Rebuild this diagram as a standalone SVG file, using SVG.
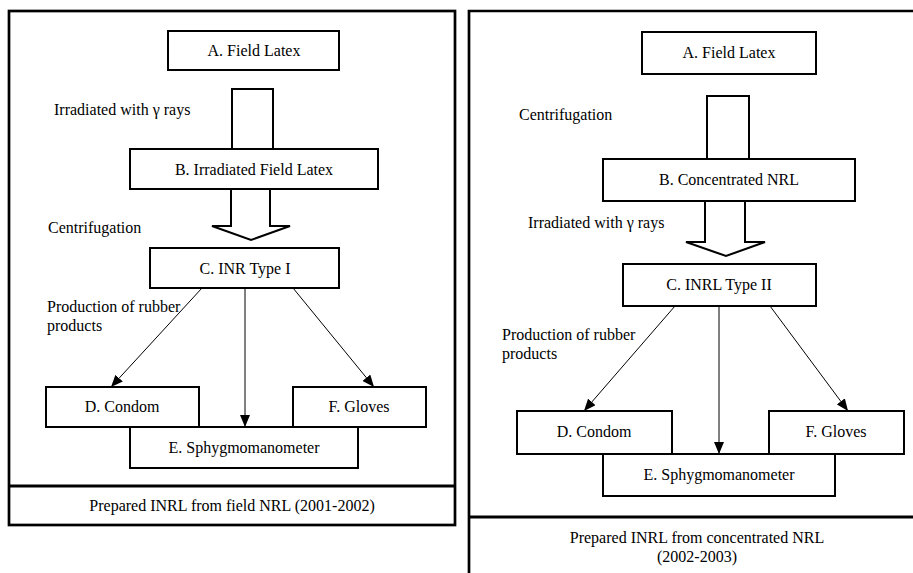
<svg xmlns="http://www.w3.org/2000/svg" width="913" height="573" viewBox="0 0 913 573">
<style>
text{font-family:"Liberation Serif","Times New Roman",serif;font-size:16px;fill:#000}
.c{text-anchor:middle}
.box{fill:#fff;stroke:#000;stroke-width:2}
.frame{fill:none;stroke:#000;stroke-width:2.7}
.div{fill:none;stroke:#000;stroke-width:3.2}
.hol{fill:#fff;stroke:#000;stroke-width:2;stroke-linejoin:miter}
.ln{fill:none;stroke:#000;stroke-width:1}
</style>
<defs>
<marker id="ah" viewBox="0 0 12 10" refX="12" refY="5" markerWidth="12" markerHeight="10" markerUnits="userSpaceOnUse" orient="auto">
<path d="M0,0 L12,5 L0,10 Z" fill="#000"/>
</marker>
</defs>
<g id="panel-left">
<rect class="frame" x="9" y="11" width="446" height="514"/>
<line class="div" x1="9" y1="486" x2="455" y2="486"/>
<text class="c" x="232" y="511">Prepared INRL from field NRL (2001-2002)</text>
</g>
<g id="panel-right">
<path class="frame" d="M913,11 H469 V573"/>
<line class="div" x1="469" y1="517" x2="913" y2="517"/>
<text class="c" x="697" y="543">Prepared INRL from concentrated NRL</text>
<text class="c" x="697" y="562">(2002-2003)</text>
</g>
<g id="connectors">
<rect class="hol" x="232" y="89" width="41" height="62"/>
<polygon class="hol" points="231,188 231,226 212,226 251,240 290,226 270,226 270,188"/>
<line class="ln" x1="202" y1="288" x2="111" y2="387" marker-end="url(#ah)"/>
<line class="ln" x1="245" y1="288" x2="245" y2="427" marker-end="url(#ah)"/>
<line class="ln" x1="293" y1="288" x2="374" y2="387" marker-end="url(#ah)"/>
<rect class="hol" x="707" y="96" width="42" height="64"/>
<polygon class="hol" points="705,200 705,242 686,242 726,256 765,242 745,242 745,200"/>
<line class="ln" x1="675" y1="306" x2="584" y2="411" marker-end="url(#ah)"/>
<line class="ln" x1="719" y1="306" x2="719" y2="454" marker-end="url(#ah)"/>
<line class="ln" x1="770" y1="306" x2="848" y2="411" marker-end="url(#ah)"/>
<text x="54" y="115">Irradiated with γ rays</text>
<text x="48" y="233">Centrifugation</text>
<text x="47" y="312">Production of rubber</text>
<text x="47" y="331">products</text>
<text x="519" y="120">Centrifugation</text>
<text x="528" y="228">Irradiated with γ rays</text>
<text x="502" y="340">Production of rubber</text>
<text x="502" y="359">products</text>
</g>
<g id="L-A"><rect class="box" x="168" y="31" width="171" height="39"/><text class="c" x="254" y="56">A. Field Latex</text></g>
<g id="L-B"><rect class="box" x="130" y="149" width="248" height="40"/><text class="c" x="254" y="175">B. Irradiated Field Latex</text></g>
<g id="L-C"><rect class="box" x="150" y="248" width="189" height="40"/><text class="c" x="245" y="274">C. INR Type I</text></g>
<g id="L-D"><rect class="box" x="46" y="387" width="153" height="40"/><text class="c" x="122" y="412">D. Condom</text></g>
<g id="L-F"><rect class="box" x="293" y="387" width="133" height="40"/><text class="c" x="359" y="412">F. Gloves</text></g>
<g id="L-E"><rect class="box" x="130" y="427" width="228" height="41"/><text class="c" x="244" y="453">E. Sphygmomanometer</text></g>
<g id="R-A"><rect class="box" x="642" y="32" width="174" height="42"/><text class="c" x="729" y="58">A. Field Latex</text></g>
<g id="R-B"><rect class="box" x="603" y="159" width="252" height="42"/><text class="c" x="729" y="185">B. Concentrated NRL</text></g>
<g id="R-C"><rect class="box" x="623" y="264" width="193" height="42"/><text class="c" x="719" y="290">C. INRL Type II</text></g>
<g id="R-D"><rect class="box" x="517" y="411" width="155" height="43"/><text class="c" x="594" y="437">D. Condom</text></g>
<g id="R-F"><rect class="box" x="769" y="411" width="135" height="43"/><text class="c" x="836" y="437">F. Gloves</text></g>
<g id="R-E"><rect class="box" x="603" y="454" width="232" height="42"/><text class="c" x="719" y="480">E. Sphygmomanometer</text></g>
</svg>
